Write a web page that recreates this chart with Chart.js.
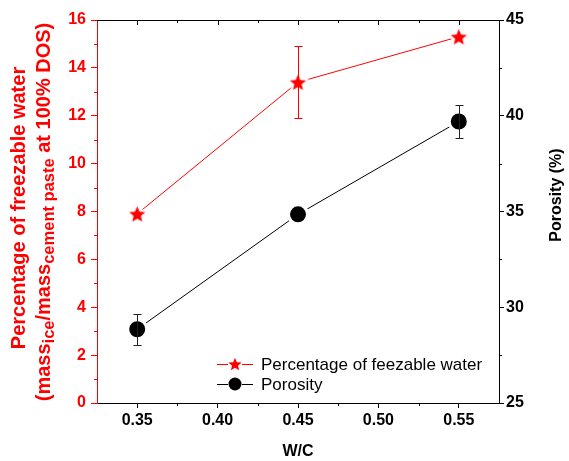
<!DOCTYPE html>
<html><head><meta charset="utf-8">
<script src="https://cdn.jsdelivr.net/npm/chart.js@4"></script>
<style>html,body{margin:0;padding:0;background:#fff;} canvas{display:block;}</style>
</head><body>
<canvas id="c" width="569" height="461"></canvas>
<script>
// ---- data ----
const wcValues = [0.35, 0.45, 0.55];
const freezableWater = [7.9, 13.4, 15.3];
const freezableWaterErr = [0, 1.5, 0];
const porosity = [28.85, 34.85, 39.7];
const porosityErr = [0.8, 0, 0.85];
const xTicks = [0.35, 0.40, 0.45, 0.50, 0.55];
const xMinorTicks = [0.375, 0.425, 0.475, 0.525];
const leftTicks = [0, 2, 4, 6, 8, 10, 12, 14, 16];
const leftMinorTicks = [1, 3, 5, 7, 9, 11, 13, 15];
const rightTicks = [25, 30, 35, 40, 45];
const rightMinorTicks = [27.5, 32.5, 37.5, 42.5];
const seriesNames = ['Percentage of feezable water', 'Porosity'];
const xTitle = 'W/C';
const leftTitle1 = 'Percentage of freezable water';
const leftTitle2 = [['(mass', false], ['ice', true], ['/mass', false], ['cement paste', true], [' at 100% DOS)', false]];
const rightTitle = 'Porosity (%)';

const RED = '#ff0000', BLACK = '#000000';
const FAM = '"Liberation Sans", Arial, sans-serif';
const al = v => Math.round(v) + 0.5;

function makeStar(R, color, halo) {
  const size = Math.ceil(2 * R + 8);
  const c = document.createElement('canvas'); c.width = size; c.height = size;
  const g = c.getContext('2d');
  const cx = size / 2, cy = size / 2 + R * 0.1, r = R * 0.45;
  g.beginPath();
  for (let i = 0; i < 10; i++) {
    const rad = i % 2 === 0 ? R : r;
    const a = -Math.PI / 2 + i * Math.PI / 5;
    const px = cx + rad * Math.cos(a), py = cy + rad * Math.sin(a);
    i ? g.lineTo(px, py) : g.moveTo(px, py);
  }
  g.closePath();
  if (halo) { g.lineJoin = 'round'; g.strokeStyle = '#fff'; g.lineWidth = 5; g.stroke(); }
  g.fillStyle = color; g.fill();
  return c;
}
const starImg = makeStar(8.5, RED, true);
const starLegend = makeStar(7, RED, false);

const errorBars = {
  id: 'errorBars',
  afterDatasetsDraw(chart) {
    const ctx = chart.ctx, xs = chart.scales.x;
    chart.data.datasets.forEach(ds => {
      const ys = chart.scales[ds.yAxisID];
      ds.errors.forEach((e, j) => {
        if (!e) return;
        const p = ds.data[j];
        const x = al(xs.getPixelForValue(p.x));
        const yT = al(ys.getPixelForValue(p.y + e));
        const yB = al(ys.getPixelForValue(p.y - e));
        ctx.save();
        ctx.strokeStyle = ds.errorColor; ctx.lineWidth = 1;
        ctx.beginPath();
        ctx.moveTo(x, yT); ctx.lineTo(x, yB);
        ctx.moveTo(x - 4, yT); ctx.lineTo(x + 4, yT);
        ctx.moveTo(x - 4, yB); ctx.lineTo(x + 4, yB);
        ctx.stroke();
        ctx.restore();
      });
    });
  }
};

const frame = {
  id: 'frame',
  afterDraw(chart) {
    const ctx = chart.ctx, a = chart.chartArea;
    const xs = chart.scales.x, yl = chart.scales.y, yr = chart.scales.y2;
    ctx.save(); ctx.lineWidth = 1;
    ctx.strokeStyle = BLACK;
    ctx.beginPath(); ctx.moveTo(a.left, al(a.top)); ctx.lineTo(a.right + 1, al(a.top)); ctx.stroke();
    ctx.beginPath();
    xTicks.forEach(v => { const x = al(xs.getPixelForValue(v)); ctx.moveTo(x, a.top); ctx.lineTo(x, a.top + 5); });
    xMinorTicks.forEach(v => { const x = al(xs.getPixelForValue(v)); ctx.moveTo(x, a.top); ctx.lineTo(x, a.top + 3); });
    xMinorTicks.forEach(v => { const x = al(xs.getPixelForValue(v)); ctx.moveTo(x, a.bottom); ctx.lineTo(x, a.bottom + 3); });
    rightMinorTicks.forEach(v => { const y = al(yr.getPixelForValue(v)); ctx.moveTo(a.right, y); ctx.lineTo(a.right + 3, y); });
    ctx.stroke();
    ctx.strokeStyle = RED;
    ctx.beginPath();
    leftMinorTicks.forEach(v => { const y = al(yl.getPixelForValue(v)); ctx.moveTo(a.left, y); ctx.lineTo(a.left - 3, y); });
    ctx.stroke();
    ctx.restore();
  }
};

const titlesAndLegend = {
  id: 'titlesAndLegend',
  afterDraw(chart) {
    const ctx = chart.ctx;
    ctx.save();
    ctx.fillStyle = RED;
    ctx.translate(25, 208); ctx.rotate(-Math.PI / 2);
    ctx.font = 'bold 20px ' + FAM; ctx.textAlign = 'center'; ctx.textBaseline = 'alphabetic';
    ctx.fillText(leftTitle1, 0, 0);
    ctx.restore();
    ctx.save();
    ctx.fillStyle = RED;
    ctx.translate(50, 212); ctx.rotate(-Math.PI / 2);
    const mainF = 'bold 20px ' + FAM, subF = 'bold 16.5px ' + FAM;
    let total = 0;
    leftTitle2.forEach(([t, sub]) => { ctx.font = sub ? subF : mainF; total += ctx.measureText(t).width; });
    let x = -total / 2; ctx.textAlign = 'left'; ctx.textBaseline = 'alphabetic';
    leftTitle2.forEach(([t, sub]) => { ctx.font = sub ? subF : mainF; ctx.fillText(t, x, sub ? 4 : 0); x += ctx.measureText(t).width; });
    ctx.restore();
    ctx.save();
    ctx.fillStyle = BLACK;
    ctx.translate(561, 195); ctx.rotate(-Math.PI / 2);
    ctx.font = 'bold 16px ' + FAM; ctx.textAlign = 'center'; ctx.textBaseline = 'alphabetic';
    ctx.fillText(rightTitle, 0, 0);
    ctx.restore();
    ctx.save();
    const rows = [{y: 364, color: RED, marker: 'star'}, {y: 384, color: BLACK, marker: 'circle'}];
    rows.forEach((r, i) => {
      ctx.strokeStyle = r.color; ctx.lineWidth = 1;
      ctx.beginPath();
      ctx.moveTo(217, al(r.y)); ctx.lineTo(228, al(r.y));
      ctx.moveTo(242, al(r.y)); ctx.lineTo(253, al(r.y));
      ctx.stroke();
      if (r.marker === 'star') {
        ctx.drawImage(starLegend, 235 - starLegend.width / 2, r.y - starLegend.height / 2);
      } else {
        ctx.fillStyle = BLACK; ctx.beginPath(); ctx.arc(235, r.y, 6.5, 0, Math.PI * 2); ctx.fill();
      }
      ctx.fillStyle = BLACK; ctx.font = '17px ' + FAM; ctx.textAlign = 'left'; ctx.textBaseline = 'alphabetic';
      ctx.fillText(seriesNames[i], 261, r.y + 6);
    });
    ctx.restore();
  }
};

const tickFont = {family: FAM, size: 16, weight: 'bold'};

new Chart(document.getElementById('c').getContext('2d'), {
  type: 'line',
  data: {
    datasets: [
      {
        label: seriesNames[0],
        data: wcValues.map((x, i) => ({x, y: freezableWater[i]})),
        errors: freezableWaterErr, errorColor: RED,
        yAxisID: 'y', borderColor: RED, borderWidth: 1, tension: 0, fill: false,
        pointStyle: starImg, pointRadius: 8
      },
      {
        label: seriesNames[1],
        data: wcValues.map((x, i) => ({x, y: porosity[i]})),
        errors: porosityErr, errorColor: '#222',
        yAxisID: 'y2', borderColor: BLACK, borderWidth: 1, tension: 0, fill: false,
        pointStyle: 'circle', pointRadius: 9.5, pointBorderWidth: 3,
        pointBorderColor: '#fff', pointBackgroundColor: BLACK
      }
    ]
  },
  options: {
    responsive: false, animation: false, devicePixelRatio: 1,
    layout: {padding: {top: 20, left: 0, right: 0, bottom: 0}},
    plugins: {legend: {display: false}, tooltip: {enabled: false}},
    scales: {
      x: {
        type: 'linear', min: 0.325, max: 0.575,
        afterBuildTicks: s => { s.ticks = xTicks.map(v => ({value: v})); },
        afterFit: s => { s.height = 58; },
        ticks: {callback: v => v.toFixed(2), color: BLACK, font: tickFont, padding: 3, maxRotation: 0, autoSkip: false},
        grid: {drawOnChartArea: false, drawTicks: true, tickLength: 5, color: BLACK},
        border: {display: true, color: BLACK, width: 1},
        title: {display: true, text: xTitle, color: BLACK, font: {family: FAM, size: 16, weight: 'bold'}, padding: {top: 0, bottom: 0}}
      },
      y: {
        type: 'linear', position: 'left', min: 0, max: 16,
        afterBuildTicks: s => { s.ticks = leftTicks.map(v => ({value: v})); },
        afterFit: s => { s.width = 97; },
        ticks: {color: RED, font: tickFont, padding: 5},
        grid: {drawOnChartArea: false, drawTicks: true, tickLength: 6, color: RED},
        border: {display: true, color: RED, width: 1}
      },
      y2: {
        type: 'linear', position: 'right', min: 25, max: 45,
        afterBuildTicks: s => { s.ticks = rightTicks.map(v => ({value: v})); },
        afterFit: s => { s.width = 70; },
        ticks: {color: BLACK, font: tickFont, padding: 2},
        grid: {drawOnChartArea: false, drawTicks: true, tickLength: 5, color: BLACK},
        border: {display: true, color: BLACK, width: 1}
      }
    }
  },
  plugins: [errorBars, frame, titlesAndLegend]
});
</script>
</body></html>
